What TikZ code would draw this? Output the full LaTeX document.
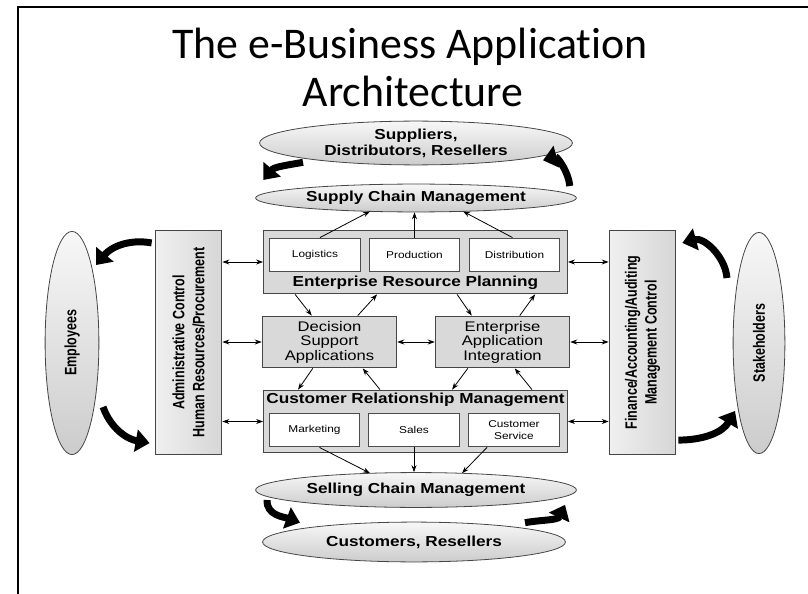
\documentclass[tikz,border=0pt]{standalone}
\usepackage{fontspec}
\setmainfont{Liberation Sans}
\newfontfamily\titlefont{Carlito}[Ligatures=NoCommon, FakeStretch=1.0]
\newfontfamily\widefont{Liberation Sans}[FakeStretch=1.19]
\newfontfamily\narrowfont{Liberation Sans}[FakeStretch=0.76]
\usetikzlibrary{shapes.geometric,arrows.meta,calc}
\tikzset{
  ell/.style={ellipse, draw=gray!55!black, top color=gray!6, bottom color=gray!40, inner sep=0, line width=0.8},
  grbox/.style={rectangle, draw=gray!55!black, fill=gray!30, line width=1, inner sep=0},
  sidebox/.style={rectangle, draw=gray!55!black, left color=gray!12, right color=gray!32, line width=1, inner sep=0, minimum width=67, minimum height=225},
  wbox/.style={rectangle, draw=gray!60!black, fill=white, line width=1, inner sep=0, minimum width=91, minimum height=34, font=\widefont\fontsize{10}{12}\selectfont, align=center},
  lbl/.style={font=\widefont\bfseries\fontsize{14.5}{16}\selectfont, align=center},
  reg/.style={font=\widefont\fontsize{14}{14.5}\selectfont, align=center},
  vlbl/.style={font=\narrowfont\bfseries\fontsize{16.5}{20}\selectfont, align=center, rotate=90},
  ttl/.style={font=\titlefont\fontsize{44}{44}\selectfont, anchor=base, inner sep=0},
  arr/.style={-{Stealth[length=7,width=5]}, line width=0.8},
  darr/.style={{Stealth[length=7,width=5]}-{Stealth[length=7,width=5]}, line width=0.8},
  big/.style={line width=7, -{Triangle[length=14,width=22]}}
}
\begin{document}
\begin{tikzpicture}[x=1bp,y=1bp]
\path[use as bounding box] (0,0) rectangle (808,-594);
\draw[line width=2.5] (18,-594) -- (18,-7) -- (808,-7);
\node[ttl] (title1) at (410,-59) {The e-Business Application};
\node[ttl] (title2) at (413,-107) {Architecture};
% ellipses
\node[ell, minimum width=314, minimum height=44, label={[lbl]center:{Suppliers,\\Distributors, Resellers}}] (sup) at (416,-143) {};
\node[ell, minimum width=322, minimum height=28, label={[lbl]center:{Supply Chain Management}}] (scm) at (416,-198) {};
\node[ell, minimum width=322, minimum height=35, label={[lbl]center:{Selling Chain Management}}] (slc) at (416,-490) {};
\node[ell, minimum width=304, minimum height=40, label={[lbl]center:{Customers, Resellers}}] (cus) at (414,-542) {};
\node[ell, minimum width=54, minimum height=224, label={[vlbl]center:{Employees}}] (emp) at (72,-343) {};
\node[ell, minimum width=52, minimum height=222, label={[vlbl]center:{Stakeholders}}] (stk) at (759,-343) {};
% ERP
\node[grbox, minimum width=305, minimum height=64] (erp) at (415.5,-262) {};
\node[lbl, anchor=center] (erpl) at (415.5,-283) {Enterprise Resource Planning};
\node[wbox] (log) at (315,-255) {Logistics};
\node[wbox] (prod) at (414.5,-255) {Production};
\node[wbox] (dist) at (514.5,-255) {Distribution};
% DSA EAI
\node[grbox, minimum width=135, minimum height=52, reg] (dsa) at (329.5,-342) {Decision\\Support\\Applications};
\node[grbox, minimum width=135, minimum height=52, reg] (eai) at (502.5,-342) {Enterprise\\Application\\Integration};
% CRM
\node[grbox, minimum width=305, minimum height=63] (crm) at (415.5,-421.5) {};
\node[lbl] (crml) at (415.5,-400) {Customer Relationship Management};
\node[wbox] (mkt) at (314.5,-430) {Marketing};
\node[wbox, minimum width=92] (sales) at (414,-430) {Sales};
\node[wbox, minimum width=92, font=\widefont\fontsize{10}{11.5}\selectfont] (cs) at (514,-430) {Customer\\Service};
% side boxes
\node[sidebox, label={[vlbl]center:{Administrative Control\\Human Resources/Procurement}}] (adm) at (188.5,-342.5) {};
\node[sidebox, label={[vlbl]center:{Finance/Accounting/Auditing\\Management Control}}] (fin) at (642.5,-342.5) {};
% small arrows
\draw[arr] ($(log.north)+(5,0)$) -- ($(scm.south)+(-46,1)$);
\draw[arr] (prod.north) -- (prod.north |- scm.south);
\draw[arr] ($(dist.north)+(-2,0)$) -- ($(scm.south)+(47,1)$);
\draw[arr] ($(erp.south west)+(32,0)$) -- ($(dsa.north west)+(50,0)$);
\draw[arr] ($(dsa.north west)+(96,0)$) -- ($(erp.south west)+(114,0)$);
\draw[arr] ($(erp.south west)+(194,0)$) -- ($(eai.north west)+(37,0)$);
\draw[arr] ($(eai.north west)+(85,0)$) -- ($(erp.south west)+(272,0)$);
\draw[arr] ($(dsa.south west)+(51,0)$) -- ($(crm.north west)+(35,0)$);
\draw[arr] ($(crm.north west)+(117,0)$) -- ($(dsa.south west)+(101,0)$);
\draw[arr] ($(eai.south west)+(33,0)$) -- ($(crm.north west)+(189,0)$);
\draw[arr] ($(crm.north west)+(269,0)$) -- ($(eai.south west)+(80,0)$);
\draw[arr] ($(mkt.south)+(5,0)$) -- ($(slc.north)+(-46,-1)$);
\draw[arr] (sales.south) -- (sales.south |- slc.north);
\draw[arr] ($(cs.south)+(-27,0)$) -- ($(slc.north)+(46,-1)$);
\draw[darr] (dsa.east) -- (eai.west);
\draw[darr] (adm.east |- erp.west) -- (erp.west);
\draw[darr] (adm.east |- dsa.west) -- (dsa.west);
\draw[darr] (adm.east |- crm.west) -- (crm.west);
\draw[darr] (erp.east) -- (fin.west |- erp.east);
\draw[darr] (eai.east) -- (fin.west |- eai.east);
\draw[darr] (crm.east) -- (fin.west |- crm.east);
% big curved arrows
\draw[big] ($(sup.south)+(-113,3)$) to[out=190,in=50] ($(scm.west)+(8,18)$);
\draw[big] ($(scm.east)+(-7,12)$) to[out=95,in=15] ($(sup.south)+(127,5)$);
\draw[big] ($(adm.north west)+(-3,-13)$) to[out=170,in=50] ($(emp.north)+(24,-34)$);
\draw[big] ($(emp.south)+(31,48)$) to[out=290,in=170] ($(adm.south west)+(-5,12)$);
\draw[big] ($(stk.north)+(-32,-46)$) to[out=95,in=15] ($(fin.north east)+(6,-13)$);
\draw[big] ($(fin.south east)+(2,15)$) to[out=0,in=240] ($(stk.south)+(-24,43)$);
\draw[big] ($(slc.west)+(12,-10)$) to[out=265,in=160] ($(cus.north)+(-114,-1)$);
\draw[big] ($(cus.north)+(111,-1)$) to[out=10,in=245] ($(slc.south)+(149,3)$);
\end{tikzpicture}
\end{document}
